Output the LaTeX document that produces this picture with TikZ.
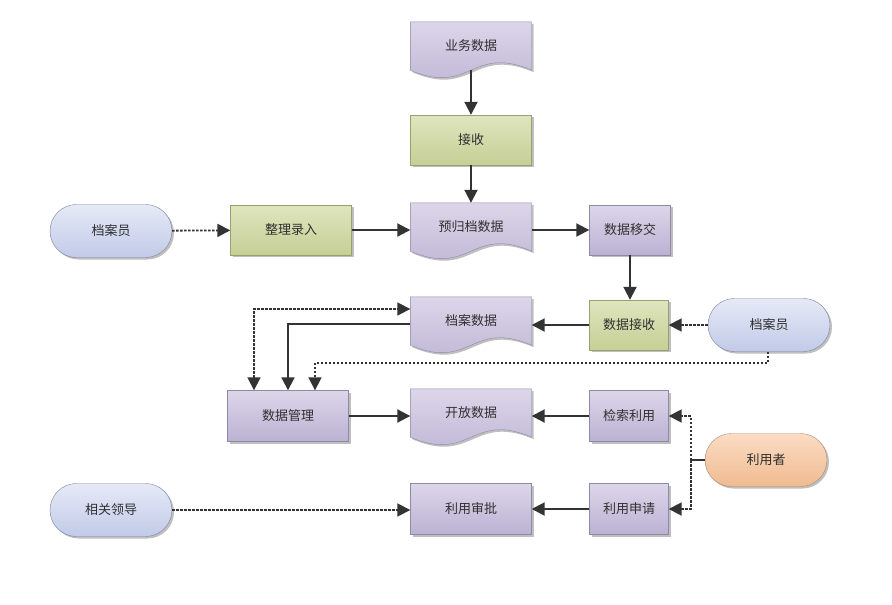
\documentclass[tikz,border=0pt]{standalone}
\usepackage{fontspec}
\usepackage{xcolor}
\usepackage{tikz}
\usetikzlibrary{arrows.meta,shapes.misc,shadows,backgrounds,calc}
\newfontfamily\cjk{Noto Sans CJK SC}
\definecolor{purpletop}{HTML}{DCD6EA}
\definecolor{purplebot}{HTML}{BBB2D2}
\definecolor{purpleline}{HTML}{8D89A6}
\definecolor{greentop}{HTML}{DFE5BF}
\definecolor{greenbot}{HTML}{C5CF95}
\definecolor{greenline}{HTML}{98A070}
\definecolor{bluetop}{HTML}{E6EAF7}
\definecolor{bluebot}{HTML}{C1CAE8}
\definecolor{blueline}{HTML}{7D8296}
\definecolor{orangetop}{HTML}{FBDCC4}
\definecolor{orangebot}{HTML}{F0BB90}
\definecolor{orangeline}{HTML}{A88A70}
\definecolor{linegray}{HTML}{333333}
\definecolor{textgray}{HTML}{303030}
\newcommand{\docshape}[1]{%
  \path[docfill] (#1.north west) -- (#1.north east) -- (#1.south east)
    .. controls ($(#1.south)+(0,-26)$) and ($(#1.south)+(0,26)$) .. (#1.south west) -- cycle;}

\begin{document}
\begin{tikzpicture}[
  x=1pt, y=-1pt,
  >={Triangle[length=13pt,width=13pt]},
  every node/.style={font=\cjk\fontsize{13}{15}\selectfont,text=textgray,inner sep=0pt},
  shade/.style={drop shadow={shadow xshift=2pt,shadow yshift=-2pt,fill=black,opacity=0.25}},
  proc/.style={shade,draw=purpleline,top color=purpletop,bottom color=purplebot,minimum width=121pt,minimum height=50pt},
  narrow/.style={minimum width=79pt},
  green/.style={shade,draw=greenline,top color=greentop,bottom color=greenbot,minimum width=121pt,minimum height=50pt},
  doc/.style={minimum width=121pt,minimum height=48pt},
  docfill/.style={shade,draw=purpleline,top color=purpletop,bottom color=purplebot},
  role/.style={rounded rectangle,shade,draw=blueline,top color=bluetop,bottom color=bluebot,minimum width=122pt,minimum height=53pt},
  user/.style={role,draw=orangeline,top color=orangetop,bottom color=orangebot},
  conn/.style={draw=linegray,line width=2pt},
  dot/.style={draw=linegray,line width=1.8pt,dash pattern=on 2.5pt off 1.5pt}
]
  \useasboundingbox (0,0) rectangle (892,605);

  \node[doc] (ywsj) at (471,46) {业务数据};
  \node[green] (js) at (471,140) {接收};
  \node[role] (dayl) at (111,231) {档案员};
  \node[green] (zllr) at (291,230) {整理录入};
  \node[doc] (ygd) at (471,227) {预归档数据};
  \node[proc,narrow,minimum width=81pt] (sjyj) at (630,230) {数据移交};
  \node[green,narrow] (sjjs) at (629,325) {数据接收};
  \node[role] (dayr) at (769,325) {档案员};
  \node[doc] (dasj) at (471,321) {档案数据};
  \node[proc,minimum height=51pt] (sjgl) at (288,416) {数据管理};
  \node[doc] (kfsj) at (471,413) {开放数据};
  \node[proc,narrow,minimum height=51pt] (jsly) at (629,416) {检索利用};
  \node[user] (lyz) at (766,460) {利用者};
  \node[role] (xgld) at (111,510) {相关领导};
  \node[proc,minimum height=51pt] (lysp) at (471,509) {利用审批};
  \node[proc,narrow,minimum height=51pt] (lysq) at (629,509) {利用申请};

  \begin{scope}[on background layer]
    \docshape{ywsj}
    \docshape{ygd}
    \docshape{dasj}
    \docshape{kfsj}
  \end{scope}

  \draw[conn,->] (ywsj) -- (js);
  \draw[conn,->] (js) -- (ygd);
  \draw[dot,->] (dayl) -- (zllr);
  \draw[conn,->] (zllr.east) -- (zllr.east -| ygd.west);
  \draw[conn,->] (sjyj.west -| ygd.east) -- (sjyj.west);
  \draw[conn,->] (sjyj.south) -- (sjyj.south |- sjjs.north);
  \draw[dot,->] (dayr) -- (sjjs);
  \draw[conn,->] (sjjs.west) -- (sjjs.west -| dasj.east);
  \draw[conn,->] ($(dasj.west)+(0,3)$) -| (sjgl);
  \draw[dot,<->] ($(sjgl.north)+(-34,0)$) |- ($(dasj.west)+(0,-12)$);
  \draw[dot,->] ($(dayr.south)+(-1,0)$) -- +(0,11) -| ($(sjgl.north)+(27,0)$);
  \draw[conn,->] (sjgl.east) -- (sjgl.east -| kfsj.west);
  \draw[conn,->] (jsly.west) -- (jsly.west -| kfsj.east);
  \coordinate (fork) at ($(lyz.west)+(-14,0)$);
  \draw[conn] (lyz.west) -- (fork);
  \draw[dot,->] (fork) |- (jsly.east);
  \draw[dot,->] (fork) |- (lysq.east);
  \draw[dot,->] (xgld.east) -- (xgld.east -| lysp.west);
  \draw[conn,->] (lysq) -- (lysp);
\end{tikzpicture}
\end{document}
